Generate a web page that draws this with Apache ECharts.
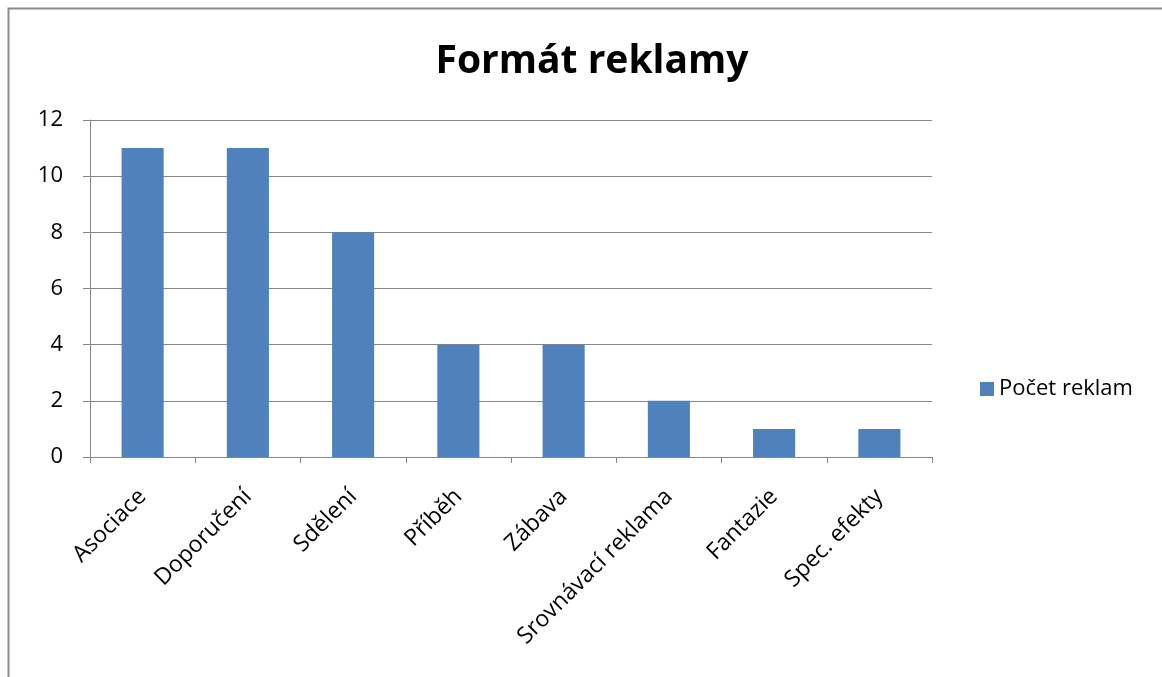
<!DOCTYPE html>
<html>
<head>
<meta charset="utf-8">
<script src="https://cdn.jsdelivr.net/npm/echarts@6/dist/echarts.min.js"></script>
<style>
  html, body { margin: 0; padding: 0; background: #fff; }
  #main { width: 1162px; height: 677px; }
</style>
</head>
<body>
<div id="main"></div>
<script>
// data
var categories = ['Asociace', 'Doporučení', 'Sdělení', 'Příběh', 'Zábava', 'Srovnávací reklama', 'Fantazie', 'Spec. efekty'];
var values = [11, 11, 8, 4, 4, 2, 1, 1];
var seriesName = 'Počet reklam';

var chart = echarts.init(document.getElementById('main'));
var font = '"Open Sans", Lato, sans-serif';

var option = {
  backgroundColor: '#fff',
  animation: false,
  title: {
    text: 'Formát reklamy',
    left: 587,
    textAlign: 'center',
    top: 37,
    textStyle: { fontFamily: font, fontSize: 39, fontWeight: 'bold', color: '#000' }
  },
  graphic: [{
    type: 'rect',
    shape: { x: 8.5, y: 8.5, width: 1200, height: 700 },
    style: { fill: 'none', stroke: '#8c8c8c', lineWidth: 2 },
    silent: true
  }],
  legend: {
    left: 975,
    top: 373,
    itemWidth: 14,
    itemHeight: 14,
    itemGap: 8,
    icon: 'rect',
    textStyle: { fontFamily: font, fontSize: 22, color: '#000' },
    data: [seriesName]
  },
  grid: { left: 90, top: 120, width: 842, height: 337, containLabel: false },
  xAxis: {
    type: 'category',
    data: categories,
    axisLine: { lineStyle: { color: '#868686', width: 1 } },
    axisTick: { show: true, alignWithLabel: false, length: 6, lineStyle: { color: '#868686' } },
    axisLabel: {
      interval: 0,
      rotate: 45,
      margin: 36,
      fontFamily: font,
      fontSize: 23,
      color: '#000'
    }
  },
  yAxis: {
    type: 'value',
    min: 0,
    max: 12,
    interval: 2,
    axisLine: { show: true, lineStyle: { color: '#868686', width: 1 } },
    axisTick: { show: true, length: 7, lineStyle: { color: '#868686' } },
    splitLine: { lineStyle: { color: '#868686', width: 1 } },
    axisLabel: { fontFamily: font, fontSize: 22, color: '#000', margin: 27 }
  },
  series: [{
    name: seriesName,
    type: 'bar',
    data: values,
    barWidth: '40%',
    itemStyle: { color: '#4F81BD' }
  }]
};

chart.setOption(option);
</script>
</body>
</html>
